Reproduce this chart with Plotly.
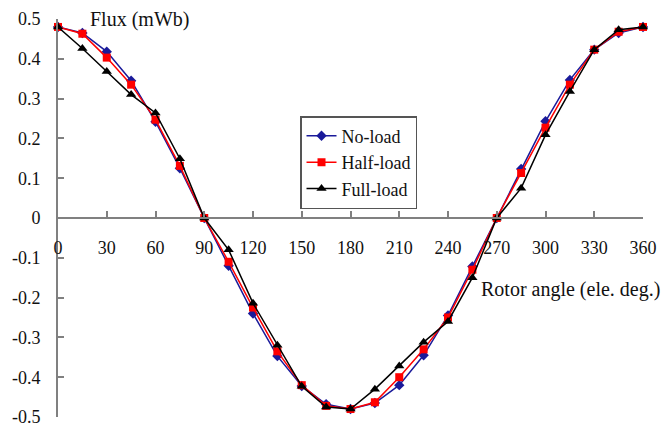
import plotly.graph_objects as go

angle = list(range(0, 361, 15))
no_load = [0.48, 0.465, 0.418, 0.345, 0.242, 0.125, 0.0, -0.12, -0.24, -0.347, -0.422, -0.468, -0.48,
           -0.465, -0.42, -0.345, -0.245, -0.122, 0.0, 0.123, 0.243, 0.347, 0.423, 0.465, 0.48]
half_load = [0.48, 0.463, 0.403, 0.335, 0.247, 0.131, 0.0, -0.11, -0.225, -0.335, -0.42, -0.472, -0.48,
             -0.463, -0.40, -0.33, -0.25, -0.13, 0.0, 0.113, 0.227, 0.335, 0.423, 0.468, 0.48]
full_load = [0.48, 0.426, 0.368, 0.31, 0.264, 0.149, 0.0, -0.08, -0.214, -0.32, -0.423, -0.475, -0.48,
             -0.43, -0.372, -0.312, -0.26, -0.15, 0.0, 0.075, 0.209, 0.318, 0.423, 0.473, 0.48]
x_ticks = list(range(0, 361, 30))
y_ticks = [0.5, 0.4, 0.3, 0.2, 0.1, 0, -0.1, -0.2, -0.3, -0.4, -0.5]
y_tick_text = ["0.5", "0.4", "0.3", "0.2", "0.1", "0", "-0.1", "-0.2", "-0.3", "-0.4", "-0.5"]

FONT = "Times New Roman, Liberation Serif, serif"

fig = go.Figure()
fig.add_trace(go.Scatter(x=angle, y=no_load, name="No-load", mode="lines+markers",
                         line=dict(color="#1a1a9a", width=1.5),
                         marker=dict(symbol="diamond", size=8, color="#1a1a9a"),
                         cliponaxis=False))
fig.add_trace(go.Scatter(x=angle, y=half_load, name="Half-load", mode="lines+markers",
                         line=dict(color="#ff0000", width=1.5),
                         marker=dict(symbol="square", size=8, color="#ff0000"),
                         cliponaxis=False))
fig.add_trace(go.Scatter(x=angle, y=full_load, name="Full-load", mode="lines+markers",
                         line=dict(color="#000000", width=1.5),
                         marker=dict(symbol="triangle-up", size=9, color="#000000"),
                         cliponaxis=False))

fig.update_layout(
    width=666, height=432,
    margin=dict(l=58, r=23, t=19, b=15, autoexpand=False),
    paper_bgcolor="white", plot_bgcolor="white",
    font=dict(family=FONT, size=18, color="#111111"),
    showlegend=True,
    legend=dict(x=0.4137, y=0.756, xanchor="left", yanchor="top",
                bordercolor="#555555", borderwidth=1.5, bgcolor="white",
                tracegroupgap=0, itemwidth=30,
                font=dict(family=FONT, size=18, color="#111111")),
    xaxis=dict(range=[0, 360], tickvals=x_ticks, ticks="inside", ticklen=6,
               tickcolor="#808080", tickwidth=1.5,
               showline=True, linecolor="#808080", linewidth=2,
               showgrid=False, zeroline=False, automargin=False,
               anchor="free", position=0.5, ticklabelstandoff=13,
               tickfont=dict(family=FONT, size=18, color="#111111")),
    yaxis=dict(range=[-0.5, 0.5], tickvals=y_ticks, ticktext=y_tick_text,
               ticks="inside", ticklen=6, tickcolor="#808080", tickwidth=1.5,
               showline=True, linecolor="#808080", linewidth=2,
               showgrid=False, zeroline=False, ticklabelstandoff=12, automargin=False,
               tickfont=dict(family=FONT, size=18, color="#111111")),
    annotations=[
        dict(text="Flux (mWb)", xref="paper", yref="paper", x=0.051, y=0.998,
             xanchor="left", yanchor="middle", showarrow=False,
             font=dict(family=FONT, size=20, color="#111111")),
        dict(text="Rotor angle (ele. deg.)", xref="paper", yref="paper", x=1.032, y=0.32,
             xanchor="right", yanchor="middle", showarrow=False,
             font=dict(family=FONT, size=20, color="#111111")),
    ],
)

fig.write_html("out.html")
